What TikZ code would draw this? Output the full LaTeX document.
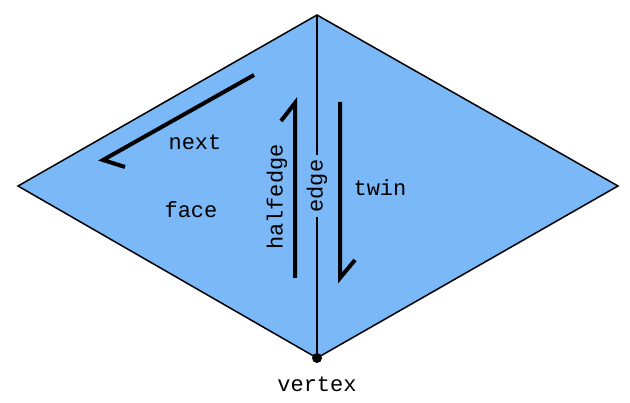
\documentclass[tikz,border=0pt]{standalone}
\usepackage{fontspec}
\setmonofont{Liberation Mono}
\begin{document}
\begin{tikzpicture}[x=1pt,y=-1pt,
  lbl/.style={font=\ttfamily\fontsize{22}{24}\selectfont,inner sep=1pt},
  he/.style={line width=4pt,line cap=butt,line join=miter}]
\useasboundingbox (0,0) rectangle (630,403);
\coordinate (L) at (18,186);
\coordinate (T) at (317,15);
\coordinate (R) at (618,186);
\coordinate (B) at (317,358);
\fill[fill={rgb,255:red,122;green,184;blue,247}] (L)--(T)--(R)--(B)--cycle;
\draw[line width=1.5pt] (L)--(T)--(R)--(B)--cycle;
\node[lbl,rotate=90,fill={rgb,255:red,122;green,184;blue,247},inner sep=4pt] (edge) at (317,186) {edge};
\draw[line width=1.5pt] (T)--(edge.east);
\draw[line width=1.5pt] (edge.west)--(B);
\fill (B) circle (5);
\node[lbl] (vertex) at (317,384) {vertex};
\node[lbl] (next) at (195,142) {next};
\node[lbl] (face) at (191,210) {face};
\node[lbl] (twin) at (380,188) {twin};
\node[lbl,rotate=90] (halfedge) at (277,197) {halfedge};
\coordinate (n1) at (254,75); \coordinate (n2) at (103,160); \coordinate (n3) at (125,167);
\draw[he] (n1)--(n2)--(n3);
\coordinate (h1) at (295,278); \coordinate (h2) at (295,103); \coordinate (h3) at (281,121);
\draw[he] (h1)--(h2)--(h3);
\coordinate (t1) at (340,102); \coordinate (t2) at (340,278); \coordinate (t3) at (355,260);
\draw[he] (t1)--(t2)--(t3);
\end{tikzpicture}
\end{document}
